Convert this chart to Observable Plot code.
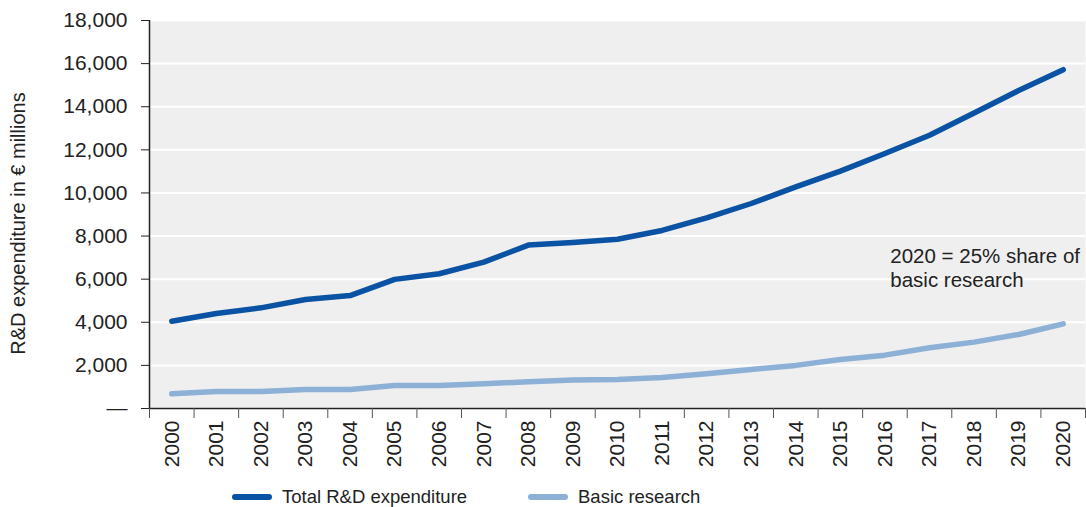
<!DOCTYPE html>
<html>
<head>
<meta charset="utf-8">
<script src="https://cdn.jsdelivr.net/npm/d3@7"></script>
<script src="https://cdn.jsdelivr.net/npm/@observablehq/plot@0.6"></script>
<style>
  body { margin: 0; background: #fff; font-family: "Liberation Sans", Arial, sans-serif; color: #222; }
  #chart svg { display: block; }
  #legend { position: relative; width: 1086px; height: 34px; margin-top: 7px; font-size: 18.5px; }
  .item { position: absolute; top: 0; height: 34px; display: flex; align-items: center; white-space: nowrap; }
  .swatch { width: 40px; height: 6px; border-radius: 3px; margin-right: 10px; }
</style>
</head>
<body>
<div id="chart"></div>
<div id="legend"></div>
<script>
// Years on the horizontal axis
const years = [2000, 2001, 2002, 2003, 2004, 2005, 2006, 2007, 2008, 2009, 2010,
               2011, 2012, 2013, 2014, 2015, 2016, 2017, 2018, 2019, 2020];

// R&D expenditure, € millions
const totalRD = [4050, 4410, 4670, 5060, 5240, 5990, 6250, 6790, 7580, 7700, 7850,
                 8260, 8840, 9510, 10280, 11010, 11830, 12680, 13710, 14750, 15720];
const basicResearch = [680, 790, 790, 885, 885, 1070, 1070, 1145, 1240, 1320, 1350,
                       1440, 1610, 1810, 2000, 2275, 2475, 2815, 3080, 3435, 3925];

const seriesNames = ["Total R&D expenditure", "Basic research"];
const seriesColors = ["#0a52a3", "#8db0d7"];

const yTicks = [0, 2000, 4000, 6000, 8000, 10000, 12000, 14000, 16000, 18000];
const yTitle = "R&D expenditure in € millions";
const annotationText = "2020 = 25% share of\nbasic research";

const data = years.flatMap((year, i) => [
  {year, value: totalRD[i], series: seriesNames[0]},
  {year, value: basicResearch[i], series: seriesNames[1]}
]);

// separators sit between the year labels
const yearEdges = years.map(y => y - 0.5).concat(years[years.length - 1] + 0.5);
const fmt = d3.format(",");

const chart = Plot.plot({
  width: 1086,
  height: 473,
  marginLeft: 149,
  marginRight: 1,
  marginTop: 20,
  marginBottom: 65,
  style: {fontFamily: '"Liberation Sans", Arial, sans-serif', fontSize: "21px", color: "#222", background: "transparent"},
  x: {type: "linear", domain: [yearEdges[0], yearEdges[yearEdges.length - 1]]},
  y: {domain: [0, 18000]},
  color: {domain: seriesNames, range: seriesColors},
  marks: [
    Plot.frame({fill: "#efefef", stroke: null}),
    Plot.gridY(yTicks, {stroke: "#fff", strokeOpacity: 1, strokeWidth: 2}),
    Plot.ruleY([0], {stroke: "#222", strokeWidth: 1.5}),
    Plot.ruleX([yearEdges[0]], {stroke: "#222", strokeWidth: 1.5}),
    Plot.axisY(yTicks, {
      tickSize: 8, tickPadding: 14, stroke: "#222", label: null,
      tickFormat: d => d === 0 ? "—" : fmt(d)
    }),
    // vertical axis title, set slightly below the plot's middle
    Plot.text([yTitle], {
      frameAnchor: "left", rotate: -90, text: d => d, textAnchor: "middle", lineAnchor: "top",
      dx: -139, dy: 9, fontSize: 20, fill: "#222"
    }),
    Plot.axisX(yearEdges, {tickSize: 10, stroke: "#555", tickFormat: () => "", label: null}),
    Plot.axisX(years, {tickSize: 0, tickPadding: 12, tickRotate: -90, tickFormat: d => String(d), label: null}),
    Plot.line(data, {
      x: "year", y: "value", z: "series", stroke: "series",
      strokeWidth: 5.5, strokeLinecap: "round", strokeLinejoin: "round"
    }),
    Plot.text([annotationText], {
      x: 2016.12, y: 6540, text: d => d, textAnchor: "start", lineAnchor: "middle",
      lineHeight: 1.18, fontSize: 20.5, fill: "#222"
    })
  ]
});
document.getElementById("chart").append(chart);

// legend below the chart
const legend = document.getElementById("legend");
const legendLeft = [232, 528];
seriesNames.forEach((name, i) => {
  const item = document.createElement("div");
  item.className = "item";
  item.style.left = legendLeft[i] + "px";
  const sw = document.createElement("span");
  sw.className = "swatch";
  sw.style.background = seriesColors[i];
  const label = document.createElement("span");
  label.textContent = name;
  item.append(sw, label);
  legend.append(item);
});
</script>
</body>
</html>
